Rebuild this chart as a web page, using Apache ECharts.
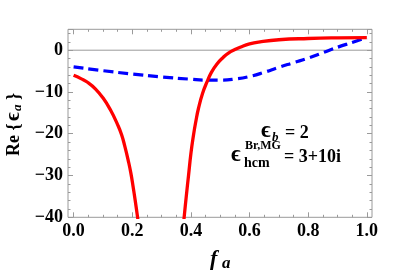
<!DOCTYPE html>
<html><head><meta charset="utf-8">
<script src="https://cdn.jsdelivr.net/npm/echarts@6/dist/echarts.min.js"></script>
<style>html,body{margin:0;padding:0;background:#fff}#c{width:402px;height:274px}</style>
</head><body><div id="c"></div>
<script>
// ---- data ----
const xTicks = [0, 0.2, 0.4, 0.6, 0.8, 1.0];
const yTicks = [-40, -30, -20, -10, 0];
const redLeftF = [0, 0.025, 0.05, 0.075, 0.1, 0.125, 0.15, 0.164, 0.175, 0.186, 0.195, 0.203, 0.21, 0.218, 0.226];
const redLeftV = [-6.0, -6.8, -7.8, -9.3, -11.4, -14.2, -17.8, -20.3, -23.1, -26.3, -29.3, -32.7, -35.9, -39.9, -43.8];
const redRightF = [0.370, 0.377, 0.385, 0.392, 0.400, 0.409, 0.417, 0.426, 0.440, 0.455, 0.470, 0.489, 0.510, 0.528, 0.550, 0.568, 0.600, 0.636, 0.700, 0.800, 0.900, 1.000];
const redRightV = [-45, -40, -34.5, -30, -24.8, -20.3, -17.0, -13.9, -10.3, -7.6, -5.3, -3.3, -1.75, -0.7, 0.15, 0.7, 1.5, 2.0, 2.5, 2.8, 2.95, 3.0];
const blueF = [0, 0.1, 0.2, 0.3, 0.4, 0.45, 0.5, 0.55, 0.6, 0.65, 0.7, 0.75, 0.8, 0.85, 0.9, 0.95, 1.0];
const blueV = [-4.0, -4.9, -5.7, -6.4, -6.95, -7.15, -7.15, -6.9, -6.3, -5.3, -4.1, -3.0, -1.9, -0.6, 0.7, 1.85, 3.0];
const zeroLineF = [0, 1];
const zeroLineV = [0, 0];

const zip = (a, b) => a.map((v, i) => [v, b[i]]);
const FONT = "'Liberation Serif','Times New Roman',serif";
const GRAY = '#9a9a9a';

const tickAxisX = (pos, labels) => ({
  type: 'value', gridIndex: 0, position: pos, min: 0, max: 1, interval: 0.2,
  axisLine: { show: false, onZero: false },
  axisTick: { show: true, inside: true, length: 5, lineStyle: { color: GRAY, width: 1 } },
  minorTick: { show: true, splitNumber: 4, length: 2.5, lineStyle: { color: GRAY, width: 1 } },
  splitLine: { show: false }, minorSplitLine: { show: false },
  axisLabel: labels ? {
    show: true, margin: 5, color: '#000', fontFamily: FONT, fontWeight: 'bold', fontSize: 18,
    showMinLabel: true, showMaxLabel: true,
    formatter: v => xTicks.some(t => Math.abs(t - v) < 1e-9) ? v.toFixed(1) : ''
  } : { show: false }
});
const tickAxisY = (pos, interval, len, labels) => ({
  type: 'value', gridIndex: 1, position: pos, min: -40, max: 5, interval: interval,
  axisLine: { show: false, onZero: false },
  axisTick: { show: true, inside: true, length: len, lineStyle: { color: GRAY, width: 1 } },
  splitLine: { show: false },
  axisLabel: labels ? {
    show: true, margin: 5, color: '#000', fontFamily: FONT, fontWeight: 'bold', fontSize: 18,
    formatter: v => yTicks.includes(v) ? (v < 0 ? '\u2212' + (-v) : String(v)) : ''
  } : { show: false }
});

const curve = (data, color, extra) => ({
  type: 'line', xAxisIndex: 0, yAxisIndex: 0, data: data, symbol: 'none',
  smooth: 0.5, clip: true,
  lineStyle: Object.assign({ color: color, width: 3.3, cap: 'butt', join: 'round' }, extra || {})
});

const chart = echarts.init(document.getElementById('c'), null, { renderer: 'canvas' });
chart.setOption({
  animation: false,
  backgroundColor: '#fff',
  grid: [
    { left: 73.6, top: 29.3, width: 293.2, height: 188, containLabel: false },
    { left: 68, top: 29.3, width: 304, height: 188, show: true, borderColor: GRAY, borderWidth: 1, backgroundColor: 'transparent', containLabel: false }
  ],
  xAxis: [
    tickAxisX('bottom', true),
    tickAxisX('top', false),
    { type: 'value', gridIndex: 1, min: 0, max: 1, show: false, axisLine: { onZero: false } }
  ],
  yAxis: [
    { type: 'value', gridIndex: 0, min: -40, max: 5, interval: 5, show: false, axisLine: { onZero: false } },
    tickAxisY('left', 10, 5, true),
    tickAxisY('left', 2, 2.5, false),
    tickAxisY('right', 10, 5, false),
    tickAxisY('right', 2, 2.5, false)
  ],
  series: [
    { type: 'line', xAxisIndex: 2, yAxisIndex: 1, data: zip(zeroLineF, zeroLineV), symbol: 'none', silent: true,
      lineStyle: { color: GRAY, width: 1 }, z: 1 },
    Object.assign(curve(zip(blueF, blueV), '#0000ff', { width: 3.2, type: [10, 5] }), { z: 3 }),
    Object.assign(curve(zip(redLeftF, redLeftV), '#ff0000'), { z: 4 }),
    Object.assign(curve(zip(redRightF, redRightV), '#ff0000'), { z: 4 })
  ],
  graphic: [
    // x-axis title f_a
    { type: 'text', left: 210, top: 248, style: { text: 'f', font: "italic bold 22px " + FONT, fill: '#000' } },
    { type: 'text', left: 222, top: 255, style: { text: 'a', font: "italic bold 17px " + FONT, fill: '#000' } },
    // y-axis title Re {ϵ_a}
    { type: 'group', x: 14, y: 124, rotation: Math.PI / 2, children: [
      { type: 'text', x: -32, y: 0, style: { text: 'Re {', font: "bold 18px " + FONT, fill: '#000', verticalAlign: 'middle', align: 'left' } },
      { type: 'text', x: 3, y: 0, style: { text: '\u03f5', font: "bold 21px " + FONT, fill: '#000', verticalAlign: 'middle', align: 'left' } },
      { type: 'text', x: 13, y: 4, style: { text: 'a', font: "italic bold 13px " + FONT, fill: '#000', verticalAlign: 'middle', align: 'left' } },
      { type: 'text', x: 24, y: 0, style: { text: '}', font: "bold 18px " + FONT, fill: '#000', verticalAlign: 'middle', align: 'left' } }
    ] },
    // annotation line 1
    { type: 'text', x: 261, y: 131, style: { text: '\u03f5', font: "bold 23px " + FONT, fill: '#000', verticalAlign: 'middle' } },
    { type: 'text', x: 272, y: 138, style: { text: 'b', font: "italic bold 13px " + FONT, fill: '#000', verticalAlign: 'middle' } },
    { type: 'text', x: 285, y: 133, style: { text: '= 2', font: "bold 18px " + FONT, fill: '#000', verticalAlign: 'middle' } },
    // annotation line 2
    { type: 'text', x: 231, y: 155, style: { text: '\u03f5', font: "bold 23px " + FONT, fill: '#000', verticalAlign: 'middle' } },
    { type: 'text', x: 245, y: 146, style: { text: 'Br,MG', font: "bold 12px " + FONT, fill: '#000', verticalAlign: 'middle' } },
    { type: 'text', x: 244, y: 163, style: { text: 'hcm', font: "bold 14px " + FONT, fill: '#000', verticalAlign: 'middle' } },
    { type: 'text', x: 284, y: 157, style: { text: '= 3+10i', font: "bold 18px " + FONT, fill: '#000', verticalAlign: 'middle' } }
  ]
});
</script>
</body></html>
